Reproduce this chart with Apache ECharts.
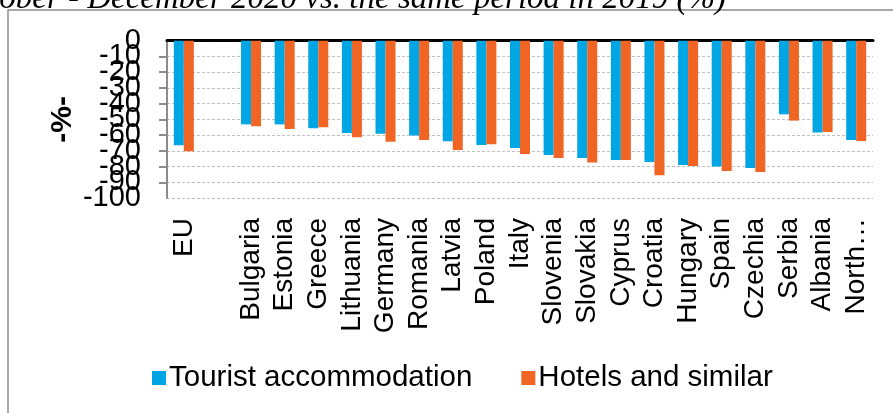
<!DOCTYPE html>
<html>
<head>
<meta charset="utf-8">
<script src="https://cdn.jsdelivr.net/npm/echarts@6/dist/echarts.min.js"></script>
<style>
html,body{margin:0;padding:0;background:#fff;}
#c{width:893px;height:413px;}
</style>
</head>
<body>
<div id="c"></div>
<script>
var categories = ['EU', '', 'Bulgaria', 'Estonia', 'Greece', 'Lithuania', 'Germany', 'Romania', 'Latvia', 'Poland', 'Italy', 'Slovenia', 'Slovakia', 'Cyprus', 'Croatia', 'Hungary', 'Spain', 'Czechia', 'Serbia', 'Albania', 'North Macedonia'];
var touristAccommodation = [-66.5, null, -53.2, -53.2, -55.7, -58.7, -59.1, -60.2, -64.0, -66.3, -68.2, -72.7, -74.6, -75.8, -77.1, -79.0, -79.9, -80.9, -46.8, -58.3, -63.1];
var hotelsAndSimilar = [-70.3, null, -54.4, -56.1, -55.1, -61.4, -64.2, -63.1, -69.5, -65.9, -72.0, -74.6, -77.5, -75.8, -85.6, -79.7, -82.8, -83.5, -50.8, -58.1, -63.8];
var seriesNames = ['Tourist accommodation', 'Hotels and similar'];
var yTicks = {min: -100, max: 0, interval: 10};
var titleText = 'October - December 2020 vs. the same period in 2019 (%)';
var axisName = '-%-';

var chart = echarts.init(document.getElementById('c'), null, {renderer: 'canvas'});
var font = 'Liberation Sans, Arial, sans-serif';
var yLabelStyle = {margin: 26, fontFamily: font, fontSize: 29, color: '#000'};
chart.setOption({
  animation: false,
  backgroundColor: '#fff',
  graphic: [
    {type: 'rect', shape: {x: 8, y: 10, width: 900, height: 420}, style: {fill: 'none', stroke: '#8c8c8c', lineWidth: 1.5}, z: 0},
    {type: 'text', x: 726, y: 16, style: {text: titleText, fontFamily: 'Liberation Serif, Times New Roman, serif', fontStyle: 'italic', fontSize: 33, fill: '#000', align: 'right', verticalAlign: 'bottom'}}
  ],
  grid: {left: 167, right: 20, top: 40.7, bottom: 215, containLabel: false},
  legend: {
    data: seriesNames,
    left: 147, top: 358,
    icon: 'rect', itemWidth: 14, itemHeight: 14, itemGap: 49,
    textStyle: {fontFamily: font, fontSize: 29.5, color: '#000', padding: [0, 0, 0, -2]}
  },
  xAxis: [
    {
      type: 'category', data: categories, position: 'bottom',
      axisLine: {show: false, onZero: false}, axisTick: {show: false},
      axisLabel: {
        rotate: 90, interval: 0, margin: 20,
        fontFamily: font, fontSize: 28, color: '#000',
        formatter: function (v) { return v.length > 10 ? v.split(' ')[0] + '\u2026' : v; }
      }
    },
    {
      type: 'category', data: categories, position: 'top',
      axisLine: {show: true, onZero: false, lineStyle: {color: '#000', width: 3}},
      axisTick: {show: false}, axisLabel: {show: false}
    }
  ],
  yAxis: [
    {
      type: 'value', min: yTicks.min, max: yTicks.max, interval: yTicks.interval, position: 'left',
      name: axisName, nameLocation: 'middle', nameGap: 89, nameRotate: 90,
      nameTextStyle: {fontFamily: font, fontSize: 30, fontWeight: 'bold', color: '#000'},
      axisLine: {show: true, lineStyle: {color: '#8c8c8c', width: 2}},
      axisTick: {show: true, length: 8, lineStyle: {color: '#8c8c8c', width: 2}},
      axisLabel: Object.assign({showMinLabel: false, showMaxLabel: false}, yLabelStyle),
      splitLine: {show: true, lineStyle: {color: '#c0c0c0', type: [3, 2], width: 1}}
    },
    {
      type: 'value', min: yTicks.min, max: yTicks.max, interval: yTicks.interval, position: 'left', offset: 0,
      axisLine: {show: false}, axisTick: {show: false}, splitLine: {show: false},
      axisLabel: Object.assign({
        showMinLabel: true, showMaxLabel: true,
        formatter: function (v) { return (v === yTicks.min || v === yTicks.max) ? String(v) : ''; }
      }, yLabelStyle)
    }
  ],
  series: [
    {name: seriesNames[0], type: 'bar', data: touristAccommodation, barWidth: 10, barGap: '0%', itemStyle: {color: '#00a5e3'}},
    {name: seriesNames[1], type: 'bar', data: hotelsAndSimilar, barWidth: 10, barGap: '0%', itemStyle: {color: '#f06424'}}
  ]
});
</script>
</body>
</html>
